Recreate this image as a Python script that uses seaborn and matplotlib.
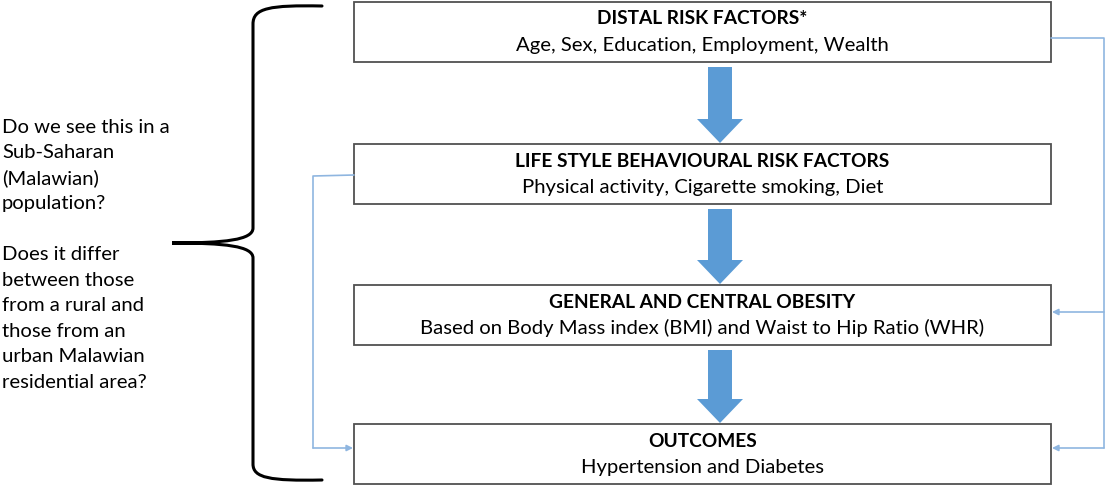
import matplotlib
matplotlib.use("Agg")
import matplotlib.pyplot as plt
import matplotlib.patches as mpatches
from matplotlib.path import Path
import seaborn as sns

# --- diagram content ---
box_titles = ["DISTAL RISK FACTORS*",
              "LIFE STYLE BEHAVIOURAL RISK FACTORS",
              "GENERAL AND CENTRAL OBESITY",
              "OUTCOMES"]
box_subtitles = ["Age, Sex, Education, Employment, Wealth",
                 "Physical activity, Cigarette smoking, Diet",
                 "Based on Body Mass index (BMI) and Waist to Hip Ratio (WHR)",
                 "Hypertension and Diabetes"]
box_tops = [2, 144, 285, 424]
side_lines = ["Do we see this in a", "Sub-Saharan", "(Malawian)", "population?", "",
              "Does it differ", "between those", "from a rural and", "those from an",
              "urban Malawian", "residential area?"]

sns.set_theme(style="white")
plt.rcParams['font.family'] = ['Lato', 'DejaVu Sans']
FS = 14.6

fig = plt.figure(figsize=(11.06, 4.86), dpi=100)
ax = fig.add_axes([0, 0, 1, 1])
ax.set_xlim(0, 1106)
ax.set_ylim(486, 0)
ax.axis('off')

BOX_L, BOX_R, BOX_H = 354, 1051, 60
blue_line = '#8fb6e0'
blue_fill = '#5b9bd5'

# boxes with text
for title, sub, top in zip(box_titles, box_subtitles, box_tops):
    ax.add_patch(mpatches.Rectangle((BOX_L, top), BOX_R - BOX_L, BOX_H,
                                    facecolor='white', edgecolor='#505050', lw=1.3))
    cx = (BOX_L + BOX_R) / 2
    ax.text(cx, top + 17, title, ha='center', va='center', fontsize=13.8,
            fontweight='bold', color='black')
    ax.text(cx, top + 43, sub, ha='center', va='center', fontsize=FS, color='black')

# block arrows between boxes
for top, nxt in zip(box_tops[:-1], box_tops[1:]):
    y0 = top + BOX_H + 5
    length = nxt - y0 - 1
    ax.add_patch(mpatches.FancyArrow(720, y0, 0, length, width=24, head_width=46,
                                     head_length=24, length_includes_head=True,
                                     color=blue_fill, lw=0))

# right feedback line
ax.plot([BOX_R, 1104, 1104], [box_tops[0] + 36, box_tops[0] + 36, box_tops[3] + 24],
        color=blue_line, lw=1.2)
for top in box_tops[2:]:
    yy = top + 27 if top == box_tops[2] else top + 24
    ax.annotate("", xy=(BOX_R + 1, yy), xytext=(1104, yy),
                arrowprops=dict(arrowstyle='-|>', color=blue_line, lw=1.2,
                                mutation_scale=9, shrinkA=0, shrinkB=0))

# left connector from box 2 to box 4
ax.plot([BOX_L, 313, 313], [box_tops[1] + 31, box_tops[1] + 32, box_tops[3] + 24],
        color=blue_line, lw=1.2)
ax.annotate("", xy=(BOX_L - 1, box_tops[3] + 24), xytext=(313, box_tops[3] + 24),
            arrowprops=dict(arrowstyle='-|>', color=blue_line, lw=1.2,
                            mutation_scale=9, shrinkA=0, shrinkB=0))

# curly brace
verts = [(322, 6), (270, 5), (253, 8), (253, 24),
         (253, 228),
         (253, 240), (225, 243), (172, 243),
         (225, 243), (253, 246), (253, 258),
         (253, 464),
         (253, 478), (270, 481), (322, 480)]
codes = [Path.MOVETO, Path.CURVE4, Path.CURVE4, Path.CURVE4,
         Path.LINETO,
         Path.CURVE4, Path.CURVE4, Path.CURVE4,
         Path.CURVE4, Path.CURVE4, Path.CURVE4,
         Path.LINETO,
         Path.CURVE4, Path.CURVE4, Path.CURVE4]
ax.add_patch(mpatches.PathPatch(Path(verts, codes), facecolor='none',
                                edgecolor='black', lw=2.2, capstyle='round'))

# question text on the left
for i, line in enumerate(side_lines):
    ax.text(2, 127 + i * 25.5, line, ha='left', va='center', fontsize=FS, color='black')

fig.savefig("out.png", dpi=100, facecolor='white')
